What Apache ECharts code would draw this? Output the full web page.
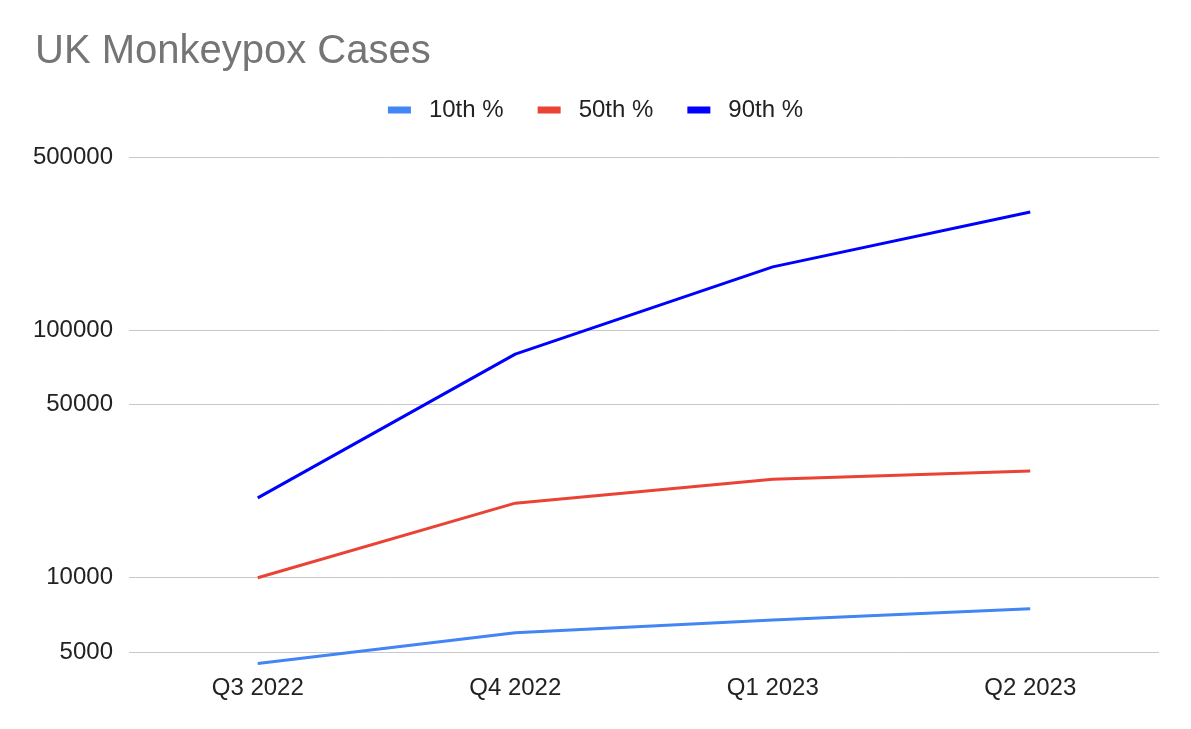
<!DOCTYPE html>
<html>
<head>
<meta charset="utf-8">
<title>UK Monkeypox Cases</title>
<script src="https://cdn.jsdelivr.net/npm/echarts@6/dist/echarts.min.js"></script>
<style>
  html, body { margin: 0; padding: 0; background: #fff; }
  #chart { width: 1191px; height: 729px; }
</style>
</head>
<body>
<div id="chart"></div>
<script>
var quarters = ["Q3 2022", "Q4 2022", "Q1 2023", "Q2 2023"];
var p10 = [4500, 6000, 6750, 7500];
var p50 = [10000, 20000, 25000, 27000];
var p90 = [21000, 80000, 180000, 300000];
var yTicks = [5000, 10000, 50000, 100000, 500000];

var font = "Liberation Sans, Arial, sans-serif";
var chart = echarts.init(document.getElementById("chart"));

function line(name, data, color) {
    return {
        name: name,
        type: "line",
        data: data,
        symbol: "none",
        showSymbol: false,
        lineStyle: {color: color, width: 3},
        itemStyle: {color: color},
        emphasis: {disabled: true}
    };
}

chart.setOption({
    animation: false,
    title: {
        text: "UK Monkeypox Cases",
        left: 35,
        top: 32,
        padding: 0,
        textStyle: {fontFamily: font, fontSize: 40, fontWeight: "normal", color: "#757575"}
    },
    legend: {
        top: 93,
        left: "center",
        icon: "rect",
        itemWidth: 23,
        itemHeight: 7,
        itemGap: 34,
        textStyle: {fontFamily: font, fontSize: 24, color: "#222", padding: [0, 0, 0, 13]},
        data: ["10th %", "50th %", "90th %"]
    },
    grid: {left: 129, right: 32, top: 157, bottom: 63, containLabel: false},
    xAxis: {
        type: "category",
        data: quarters,
        boundaryGap: true,
        axisLine: {show: false},
        axisTick: {show: false},
        axisLabel: {fontFamily: font, fontSize: 24, color: "#222", margin: 10}
    },
    yAxis: {
        type: "log",
        logBase: 10,
        min: 4400,
        max: 500000,
        axisLine: {show: false},
        axisTick: {show: false, customValues: yTicks},
        axisLabel: {
            fontFamily: font, fontSize: 24, color: "#222", margin: 16,
            customValues: yTicks,
            formatter: function (v) { return String(Math.round(v)); }
        },
        splitLine: {show: true, lineStyle: {color: "#c8c8c8", width: 1}}
    },
    series: [
        line("10th %", p10, "#4285f4"),
        line("50th %", p50, "#ea4335"),
        line("90th %", p90, "#0000ff")
    ]
});
</script>
</body>
</html>
